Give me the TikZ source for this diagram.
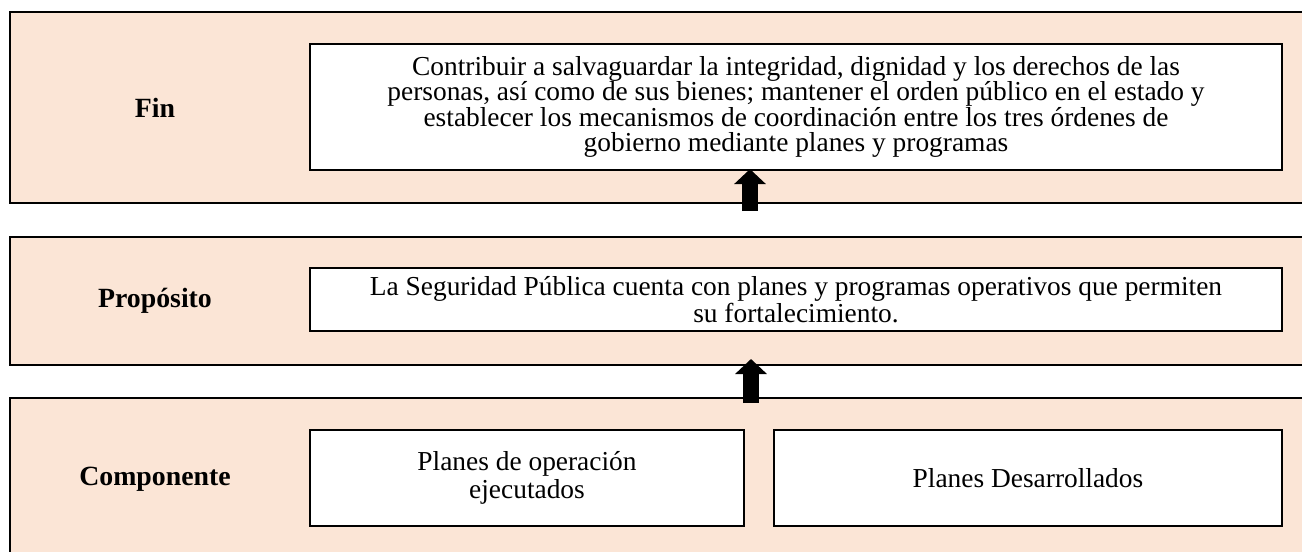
\documentclass[tikz,border=0pt]{standalone}
\usepackage{fontspec}
\setmainfont{Liberation Serif}
\usetikzlibrary{arrows.meta}
\definecolor{peach}{HTML}{FBE5D6}

\tikzset{
  bandline/.style={line width=1.1pt},
  txtbox/.style={draw, fill=white, line width=1.1pt, align=center, inner sep=0pt,
    font=\fontsize{13.7}{12.7}\selectfont},
  widebox/.style={txtbox, font=\fontsize{13.7}{13.7}\selectfont},
  lbl/.style={font=\fontsize{13.9}{12.6}\selectfont\bfseries},
  uparrow/.style={line width=8pt, -{Triangle[width=15.5pt,length=7.5pt]}}
}

\begin{document}
\begin{tikzpicture}[x=0.5pt, y=-0.5pt]
			%%%%% START %%%%%
			\useasboundingbox (0, 0) rectangle (1302, 552);
			
			% bands
			\fill[peach] (10, 12) rectangle (1302, 203);
			\draw[bandline] (1302, 12) -- (10, 12) -- (10, 203) -- (1302, 203);
			
			\fill[peach] (10, 237) rectangle (1302, 365);
			\draw[bandline] (1302, 237) -- (10, 237) -- (10, 365) -- (1302, 365);
			
			\fill[peach] (10, 398) rectangle (1302, 552);
			\draw[bandline] (1302, 398) -- (10, 398) -- (10, 552);
			
			% level names
			\node[lbl] (finlbl) at (155, 108) {Fin};
			\node[lbl] (proplbl) at (155, 301) {Propósito};
			\node[lbl] (complbl) at (155, 479) {Componente};
			
			% boxes
			\node[txtbox, minimum width=486pt, minimum height=63pt] (fin) at (796, 107)
				{Contribuir a salvaguardar la integridad, dignidad y los derechos de las\\
				personas, así como de sus bienes; mantener el orden público en el estado y\\
				establecer los mecanismos de coordinación entre los tres órdenes de\\
				gobierno mediante planes y programas};
			\node[widebox, minimum width=486pt, minimum height=31.5pt] (prop) at (796, 299.5)
				{La Seguridad Pública cuenta con planes y programas operativos que permiten\\
				su fortalecimiento.};
			\node[widebox, minimum width=217pt, minimum height=48pt] (compa) at (527, 478)
				{Planes de operación\\ ejecutados};
			\node[widebox, minimum width=254pt, minimum height=48pt] (compb) at (1028, 478)
				{Planes Desarrollados};
			
			% arrows
			\coordinate (upa) at (750, 211);
			\coordinate (upb) at (751, 403);
			\coordinate (upbtip) at (751, 359);
			\draw[uparrow] (upa) -- ([yshift=1pt]fin.south -| upa);
			\draw[uparrow] (upb) -- (upbtip);
			%%%%% END %%%%%
		\end{tikzpicture}
\end{document}
